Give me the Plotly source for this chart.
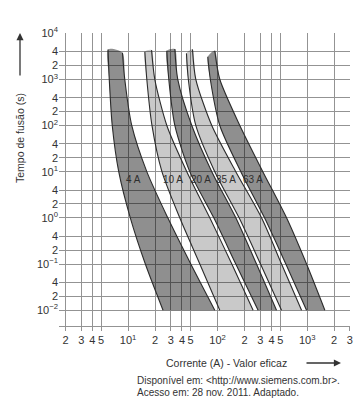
import plotly.graph_objects as go
import math

# ---------------- data ----------------
band_names = ["4 A", "10 A", "20 A", "35 A", "63 A"]
band_dark = [True, False, True, False, True]

# time levels (s) below the top cut of every band edge
t_levels = [1000, 100, 10, 1, 0.1, 0.01]

# top cut-off time (s) of each band, left edge / right edge
top_left_t = [4436, 3934, 4140, 3640, 3069]
top_right_t = [3750, 4285, 4508, 4436, 4140]

# current (A) of band edges at [top, 1000, 100, 10, 1, 0.1, 0.01] s
left_4A = [5.98, 6.17, 6.66, 7.87, 10.6, 15.6, 24.6]
right_4A = [8.66, 9.19, 11.0, 16.2, 27.8, 50.2, 93.0]
left_10A = [15.4, 16.2, 18.5, 23.9, 37.8, 63.3, 105.8]
right_10A = [18.3, 19.9, 27.1, 45.3, 81.8, 144.1, 249.2]
left_20A = [27.1, 28.5, 33.3, 48.9, 90.7, 159.7, 283.5]
right_20A = [33.3, 35.9, 51.5, 86.1, 159.7, 272.0, 455.0]
left_35A = [44.9, 47.1, 57.1, 93.0, 173.9, 301.5, 517.6]
right_35A = [52.4, 57.1, 86.1, 159.7, 309.4, 517.6, 865.9]
left_63A = [77.7, 82.9, 105.8, 181.7, 334.3, 578.2, 984.7]
right_63A = [93.0, 105.8, 177.0, 320.0, 588.7, 984.7, 1577.0]

lefts = [left_4A, left_10A, left_20A, left_35A, left_63A]
rights = [right_4A, right_10A, right_20A, right_35A, right_63A]

# label positions (current A, time s)
label_current = [11.6, 31.8, 66.0, 124.0, 246.0]
label_time = [6.6, 6.6, 6.6, 6.6, 6.6]

# axis ticks
x_tickvals = [2, 3, 4, 5, 10, 20, 30, 40, 50, 100, 200, 300, 400, 500, 1000, 2000, 3000]
x_ticktext = ["2", "3", "4", "5", "10<sup>1</sup>", "2", "3", "4", "5", "10<sup>2</sup>",
              "2", "3", "4", "5", "10<sup>3</sup>", "2", "3"]
y_tickvals = [0.01, 0.02, 0.04, 0.1, 0.2, 0.4, 1, 2, 4, 10, 20, 40, 100, 200, 400,
              1000, 2000, 4000, 10000]
y_ticktext = ["10<sup>\u22122</sup>", "2", "4", "10<sup>\u22121</sup>", "2", "4",
              "10<sup>0</sup>", "2", "4", "10<sup>1</sup>", "2", "4", "10<sup>2</sup>", "2", "4",
              "10<sup>3</sup>", "2", "4", "10<sup>4</sup>"]

# ---------------- figure ----------------
fig = go.Figure()
FONT = "Liberation Sans, Arial, sans-serif"
EDGE = "#2b2b2b"
SMOOTH = 0.75

for i in range(5):
    lt = [top_left_t[i]] + t_levels
    rt = [top_right_t[i]] + t_levels
    L = lefts[i]
    R = rights[i]
    xs = L[::-1] + R
    ys = lt[::-1] + rt
    fill = "rgba(0,0,0,0.44)" if band_dark[i] else "rgba(0,0,0,0.21)"
    fig.add_trace(go.Scatter(x=xs, y=ys, mode="lines", fill="toself", fillcolor=fill,
                             line=dict(width=0, shape="spline", smoothing=SMOOTH),
                             hoverinfo="skip", showlegend=False))
    for ex, et in ((L, lt), (R, rt)):
        fig.add_trace(go.Scatter(x=ex, y=et, mode="lines",
                                 line=dict(color=EDGE, width=1.1, shape="spline",
                                           smoothing=SMOOTH),
                                 hoverinfo="skip", showlegend=False))

annotations = []
for name, c, t in zip(band_names, label_current, label_time):
    annotations.append(dict(x=math.log10(c), y=math.log10(t), xref="x", yref="y",
                            text=name, showarrow=False,
                            font=dict(family=FONT, size=10, color="#2e2e2e")))

# geometry helpers (plot area: l=59, t=33, w=291, h=293)
def px(xp):
    return (xp - 59) / 291.0

def py(yp):
    return 1 - (yp - 33) / 293.0

# y axis title and arrow
annotations.append(dict(x=px(20), y=py(138), xref="paper", yref="paper",
                        xanchor="center", yanchor="middle",
                        text="Tempo de fusão (s)", textangle=-90, showarrow=False,
                        font=dict(family=FONT, size=10.5, color="#333")))
annotations.append(dict(x=px(20), y=py(33), xref="paper", yref="paper", text="",
                        showarrow=True, ax=0, ay=44, arrowhead=2, arrowsize=1.1,
                        arrowwidth=1.3, arrowcolor="#333"))
# x axis title and arrow
annotations.append(dict(x=px(226.5), y=py(363), xref="paper", yref="paper",
                        xanchor="center", yanchor="middle",
                        text="Corrente (A) - Valor eficaz", showarrow=False,
                        font=dict(family=FONT, size=10.5, color="#333")))
annotations.append(dict(x=px(341), y=py(363), xref="paper", yref="paper", text="",
                        showarrow=True, ax=-36, ay=0, arrowhead=2, arrowsize=1.1,
                        arrowwidth=1.3, arrowcolor="#333"))
# source
annotations.append(dict(x=px(135), y=py(380), xref="paper", yref="paper",
                        text="Disponível em: &lt;http://www.siemens.com.br&gt;.",
                        xanchor="left", yanchor="middle", showarrow=False,
                        font=dict(family=FONT, size=10, color="#333")))
annotations.append(dict(x=px(135), y=py(392), xref="paper", yref="paper",
                        text="Acesso em: 28 nov. 2011. Adaptado.",
                        xanchor="left", yanchor="middle", showarrow=False,
                        font=dict(family=FONT, size=10, color="#333")))

GRID = "#939393"
fig.update_layout(
    width=362, height=401,
    margin=dict(l=59, r=12, t=33, b=75),
    paper_bgcolor="white", plot_bgcolor="white",
    annotations=annotations,
    xaxis=dict(type="log", range=[0.229, 3.4785], tickvals=x_tickvals, ticktext=x_ticktext,
               automargin=False,
               showgrid=True, gridcolor=GRID, gridwidth=1.2, zeroline=False,
               showline=True, linecolor=GRID, linewidth=1.2,
               ticks="outside", ticklen=4, tickcolor=GRID, tickwidth=1.2,
               tickfont=dict(family=FONT, size=11, color="#333")),
    yaxis=dict(type="log", range=[-2.342, 4.002], tickvals=y_tickvals, ticktext=y_ticktext,
               automargin=False,
               showgrid=True, gridcolor=GRID, gridwidth=1.2, zeroline=False,
               showline=False, ticks="",
               tickfont=dict(family=FONT, size=11, color="#333")),
)

fig.write_html("out.html", config={"displayModeBar": False},
               post_script="document.body.style.margin='0px';document.body.style.padding='0px';")
